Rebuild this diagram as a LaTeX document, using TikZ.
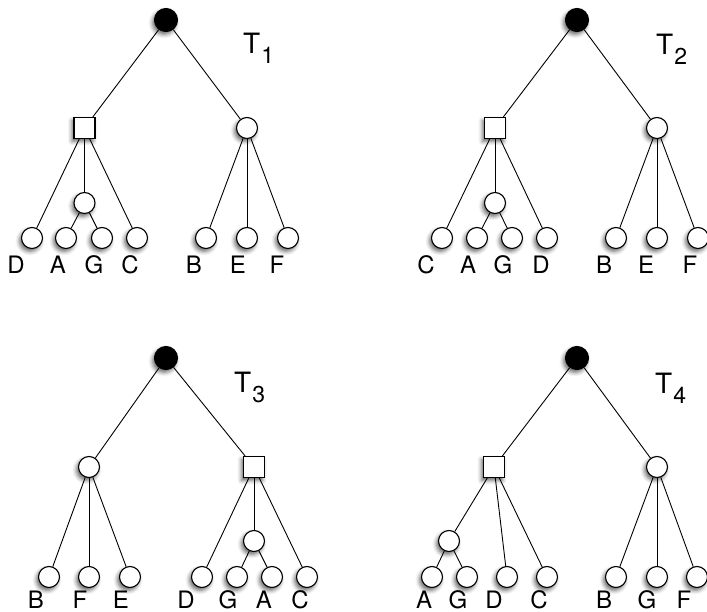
\documentclass[tikz,border=0pt]{standalone}
\usepackage{fontspec}
\setmainfont{TeX Gyre Heros}
\usetikzlibrary{shadows.blur}
\begin{document}
\begin{tikzpicture}[x=1pt,y=-1pt,
  sh/.style={blur shadow={shadow xshift=-2pt,shadow yshift=-3pt,shadow blur radius=4pt,shadow opacity=60}},
  leaf/.style={circle,draw,fill=white,line width=1.1pt,minimum size=21pt,inner sep=0pt,sh},
  rootnode/.style={circle,draw,fill=black,line width=1.1pt,minimum size=23pt,inner sep=0pt,sh},
  sq/.style={rectangle,draw,fill=white,line width=1.1pt,minimum size=21pt,inner sep=0pt,sh},
  lab/.style={font=\fontsize{24pt}{24pt}\selectfont,inner sep=0pt},
  tlab/.style={font=\fontsize{28pt}{28pt}\selectfont,inner sep=0pt,anchor=base west},
  edge/.style={line width=0.9pt}]
\useasboundingbox (0,0) rectangle (707,612);
\newcommand{\Tl}[1]{T\kern1pt\raisebox{-10pt}{\fontsize{23pt}{23pt}\selectfont #1}}
% ---------- T1
\node[rootnode] (r1) at (166,20) {};
\node[sq] (s1) at (84.5,128) {};
\node[leaf] (c1) at (247,128) {};
\node[leaf] (m1) at (84.5,203) {};
\node[leaf] (l1a) at (32,238) {};
\node[leaf] (l1b) at (66,238) {};
\node[leaf] (l1c) at (102,238) {};
\node[leaf] (l1d) at (137,238) {};
\node[leaf] (l1e) at (206,238) {};
\node[leaf] (l1f) at (247,238) {};
\node[leaf] (l1g) at (288,238) {};
\draw[edge] (r1) -- (s1); \draw[edge] (r1) -- (c1);
\draw[edge] (s1) -- (l1a); \draw[edge] (s1) -- (m1); \draw[edge] (s1) -- (l1d);
\draw[edge] (m1) -- (l1b); \draw[edge] (m1) -- (l1c);
\draw[edge] (c1) -- (l1e); \draw[edge] (c1) -- (l1f); \draw[edge] (c1) -- (l1g);
\node[lab] (t1a) at (16,265) {D};
\node[lab] (t1b) at (58,265) {A};
\node[lab] (t1c) at (94,265) {G};
\node[lab] (t1d) at (130,265) {C};
\node[lab] (t1e) at (194,265) {B};
\node[lab] (t1f) at (238,265) {E};
\node[lab] (t1g) at (277,265) {F};
\node[tlab] (T1) at (243,54) {\Tl{1}};
% ---------- T2
\node[rootnode] (r2) at (577,20) {};
\node[sq] (s2) at (495,128) {};
\node[leaf] (c2) at (657,128) {};
\node[leaf] (m2) at (495,203) {};
\node[leaf] (l2a) at (442,238) {};
\node[leaf] (l2b) at (477,238) {};
\node[leaf] (l2c) at (512,238) {};
\node[leaf] (l2d) at (547,238) {};
\node[leaf] (l2e) at (616,238) {};
\node[leaf] (l2f) at (657,238) {};
\node[leaf] (l2g) at (698,238) {};
\draw[edge] (r2) -- (s2); \draw[edge] (r2) -- (c2);
\draw[edge] (s2) -- (l2a); \draw[edge] (s2) -- (m2); \draw[edge] (s2) -- (l2d);
\draw[edge] (m2) -- (l2b); \draw[edge] (m2) -- (l2c);
\draw[edge] (c2) -- (l2e); \draw[edge] (c2) -- (l2f); \draw[edge] (c2) -- (l2g);
\node[lab] (t2a) at (426,265) {C};
\node[lab] (t2b) at (468,265) {A};
\node[lab] (t2c) at (503,265) {G};
\node[lab] (t2d) at (541,265) {D};
\node[lab] (t2e) at (604,265) {B};
\node[lab] (t2f) at (646,265) {E};
\node[lab] (t2g) at (690,265) {F};
\node[tlab] (T2) at (656,55) {\Tl{2}};
% ---------- T3
\node[rootnode] (r3) at (166,358) {};
\node[leaf] (c3) at (89,467) {};
\node[sq] (s3) at (254,467) {};
\node[leaf] (m3) at (254,541) {};
\node[leaf] (l3a) at (49,577) {};
\node[leaf] (l3b) at (89,577) {};
\node[leaf] (l3c) at (130,577) {};
\node[leaf] (l3d) at (202,577) {};
\node[leaf] (l3e) at (237,577) {};
\node[leaf] (l3f) at (272,577) {};
\node[leaf] (l3g) at (307,577) {};
\draw[edge] (r3) -- (c3); \draw[edge] (r3) -- (s3);
\draw[edge] (c3) -- (l3a); \draw[edge] (c3) -- (l3b); \draw[edge] (c3) -- (l3c);
\draw[edge] (s3) -- (l3d); \draw[edge] (s3) -- (m3); \draw[edge] (s3) -- (l3g);
\draw[edge] (m3) -- (l3e); \draw[edge] (m3) -- (l3f);
\node[lab] (t3a) at (36,600) {B};
\node[lab] (t3b) at (80,600) {F};
\node[lab] (t3c) at (121,600) {E};
\node[lab] (t3d) at (186,600) {D};
\node[lab] (t3e) at (228,600) {G};
\node[lab] (t3f) at (264,600) {A};
\node[lab] (t3g) at (300,600) {C};
\node[tlab] (T3) at (234,392) {\Tl{3}};
% ---------- T4
\node[rootnode] (r4) at (577,358) {};
\node[sq] (s4) at (494,467) {};
\node[leaf] (c4) at (657,467) {};
\node[leaf] (m4) at (449,541) {};
\node[leaf] (l4a) at (432,577) {};
\node[leaf] (l4b) at (467,577) {};
\node[leaf] (l4c) at (507,577) {};
\node[leaf] (l4d) at (547,577) {};
\node[leaf] (l4e) at (616,577) {};
\node[leaf] (l4f) at (657,577) {};
\node[leaf] (l4g) at (697,577) {};
\draw[edge] (r4) -- (s4); \draw[edge] (r4) -- (c4);
\draw[edge] (s4) -- (m4); \draw[edge] (s4) -- (l4c); \draw[edge] (s4) -- (l4d);
\draw[edge] (m4) -- (l4a); \draw[edge] (m4) -- (l4b);
\draw[edge] (c4) -- (l4e); \draw[edge] (c4) -- (l4f); \draw[edge] (c4) -- (l4g);
\node[lab] (t4a) at (424,600) {A};
\node[lab] (t4b) at (458,600) {G};
\node[lab] (t4c) at (494,600) {D};
\node[lab] (t4d) at (539,600) {C};
\node[lab] (t4e) at (604,600) {B};
\node[lab] (t4f) at (647,600) {G};
\node[lab] (t4g) at (684,600) {F};
\node[tlab] (T4) at (655,393) {\Tl{4}};
\end{tikzpicture}
\end{document}
